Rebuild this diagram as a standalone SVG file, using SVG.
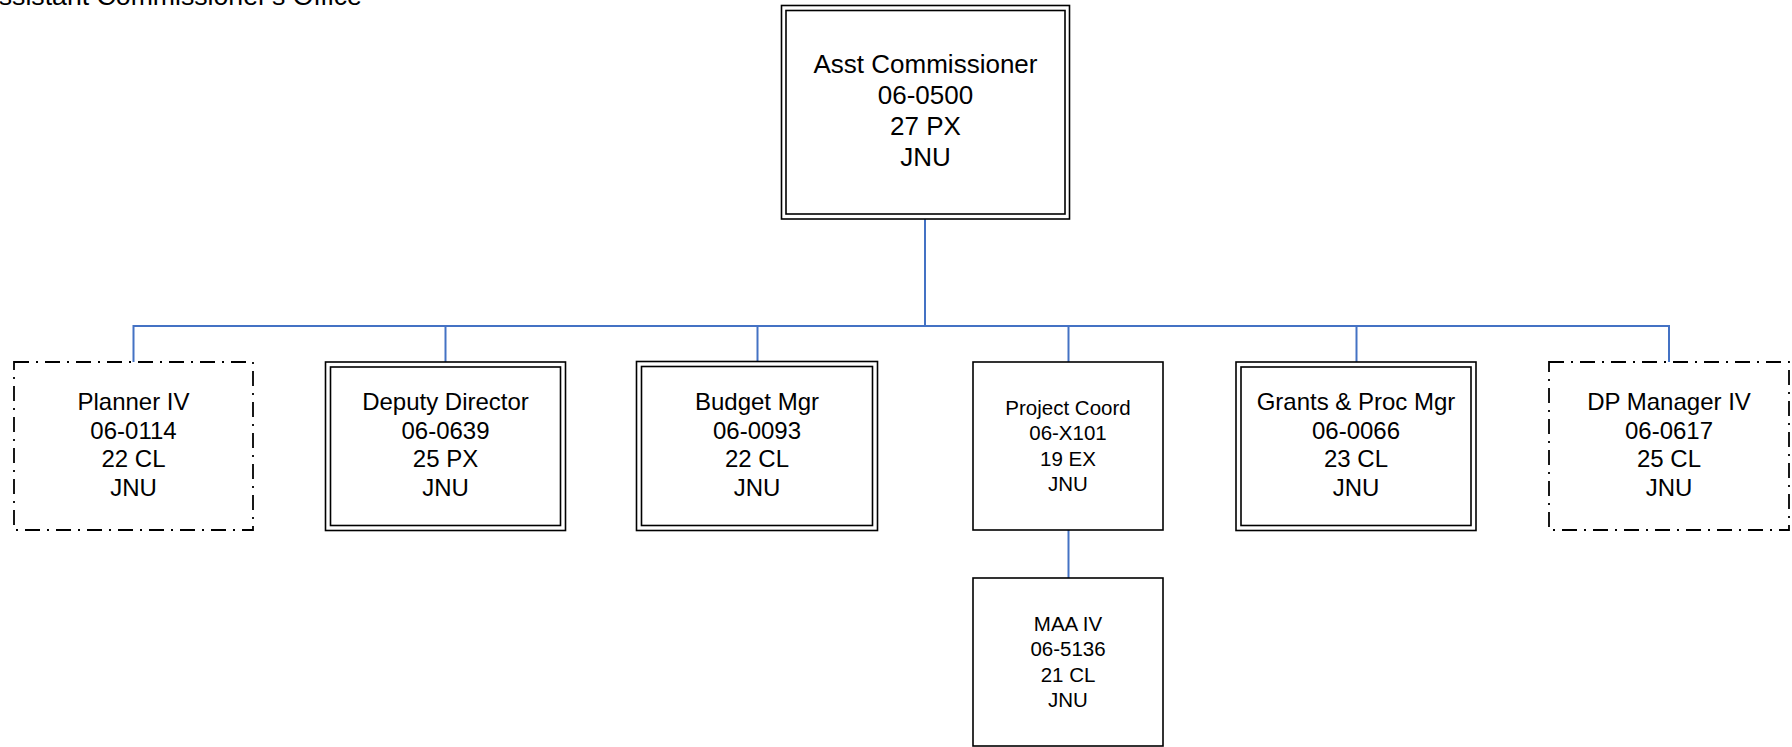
<svg xmlns="http://www.w3.org/2000/svg" width="1792" height="747" viewBox="0 0 1792 747">
<style>
  .bg { fill: #ffffff; }
  .box { fill: #ffffff; stroke: #000000; stroke-width: 1.6; }
  .inner { fill: none; stroke: #000000; stroke-width: 1.6; }
  .dash { fill: #ffffff; stroke: #000000; stroke-width: 1.8; stroke-dasharray: 15 7 2 7; }
  .conn { fill: none; stroke: #4472C4; stroke-width: 2; }
  text { font-family: "Liberation Sans", Arial, sans-serif; fill: #000000; text-anchor: middle; }
  .t26 { font-size: 26px; }
  .t24 { font-size: 24px; }
  .t20 { font-size: 20.5px; }
  .title { font-size: 26.67px; text-anchor: start; }
</style>
<rect class="bg" x="0" y="0" width="1792" height="747"/>
<text class="title" x="-19" y="5">Assistant Commissioner's Office</text>

<g id="connectors">
  <path class="conn" d="M925,219 V326"/>
  <path class="conn" d="M133.5,362 V326 H1669 V362"/>
  <path class="conn" d="M445.5,326 V362"/>
  <path class="conn" d="M757.5,326 V362"/>
  <path class="conn" d="M1068.5,326 V362"/>
  <path class="conn" d="M1356.5,326 V362"/>
  <path class="conn" d="M1068.5,530 V578"/>
</g>

<g id="asst-commissioner">
  <rect class="box" x="781.5" y="5.5" width="288" height="213.5"/>
  <rect class="inner" x="786" y="10.5" width="279" height="203.5"/>
  <text class="t26" x="925.5" y="72.5">Asst Commissioner</text>
  <text class="t26" x="925.5" y="103.5">06-0500</text>
  <text class="t26" x="925.5" y="134.5">27 PX</text>
  <text class="t26" x="925.5" y="165.5">JNU</text>
</g>

<g id="planner-iv">
  <rect class="dash" x="14" y="362" width="239" height="168"/>
  <text class="t24" x="133.5" y="410">Planner IV</text>
  <text class="t24" x="133.5" y="438.7">06-0114</text>
  <text class="t24" x="133.5" y="467.3">22 CL</text>
  <text class="t24" x="133.5" y="496">JNU</text>
</g>

<g id="deputy-director">
  <rect class="box" x="325.5" y="362" width="240" height="168.5"/>
  <rect class="inner" x="330.5" y="367" width="230" height="158.5"/>
  <text class="t24" x="445.5" y="410">Deputy Director</text>
  <text class="t24" x="445.5" y="438.7">06-0639</text>
  <text class="t24" x="445.5" y="467.3">25 PX</text>
  <text class="t24" x="445.5" y="496">JNU</text>
</g>

<g id="budget-mgr">
  <rect class="box" x="636.5" y="361.5" width="241" height="169"/>
  <rect class="inner" x="641.5" y="366.5" width="231" height="159"/>
  <text class="t24" x="757" y="410">Budget Mgr</text>
  <text class="t24" x="757" y="438.7">06-0093</text>
  <text class="t24" x="757" y="467.3">22 CL</text>
  <text class="t24" x="757" y="496">JNU</text>
</g>

<g id="project-coord">
  <rect class="box" x="973" y="362" width="190" height="168"/>
  <text class="t20" x="1068" y="414.5">Project Coord</text>
  <text class="t20" x="1068" y="440">06-X101</text>
  <text class="t20" x="1068" y="465.5">19 EX</text>
  <text class="t20" x="1068" y="491">JNU</text>
</g>

<g id="grants-proc-mgr">
  <rect class="box" x="1236" y="362" width="240" height="168.5"/>
  <rect class="inner" x="1241" y="367" width="230" height="158.5"/>
  <text class="t24" x="1356" y="410">Grants &amp; Proc Mgr</text>
  <text class="t24" x="1356" y="438.7">06-0066</text>
  <text class="t24" x="1356" y="467.3">23 CL</text>
  <text class="t24" x="1356" y="496">JNU</text>
</g>

<g id="dp-manager-iv">
  <rect class="dash" x="1549" y="362" width="240" height="168"/>
  <text class="t24" x="1669" y="410">DP Manager IV</text>
  <text class="t24" x="1669" y="438.7">06-0617</text>
  <text class="t24" x="1669" y="467.3">25 CL</text>
  <text class="t24" x="1669" y="496">JNU</text>
</g>

<g id="maa-iv">
  <rect class="box" x="973" y="578" width="190" height="168"/>
  <text class="t20" x="1068" y="630.5">MAA IV</text>
  <text class="t20" x="1068" y="656">06-5136</text>
  <text class="t20" x="1068" y="681.5">21 CL</text>
  <text class="t20" x="1068" y="707">JNU</text>
</g>
</svg>
